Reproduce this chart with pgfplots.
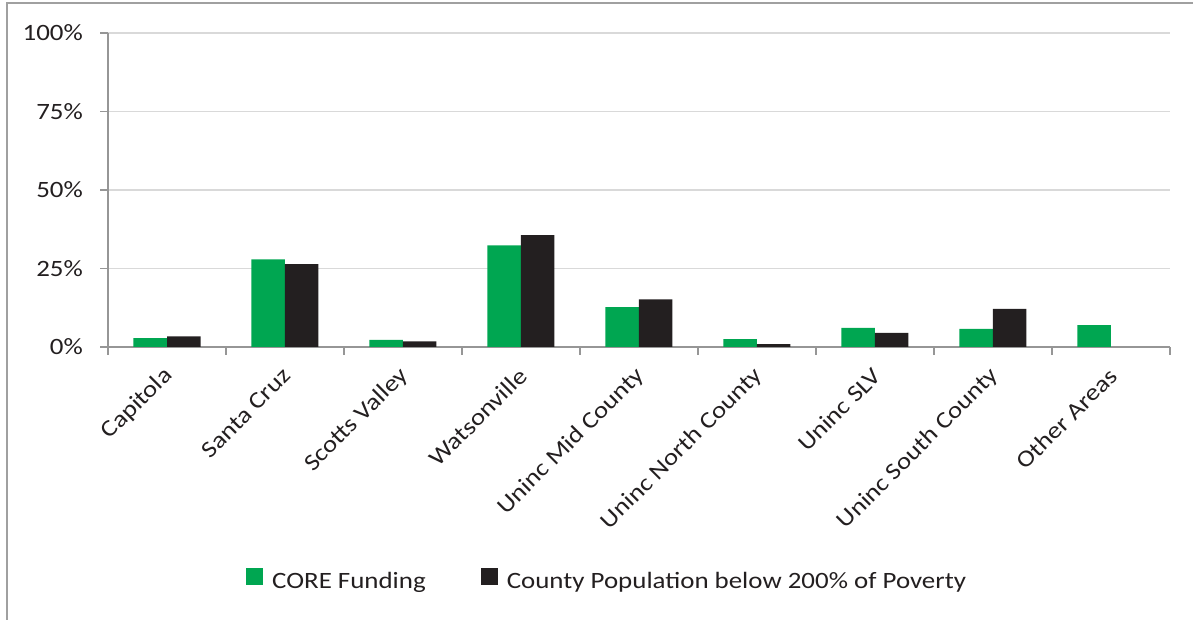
\documentclass[border=0pt]{standalone}
\usepackage{pgfplots}
\pgfplotsset{compat=1.18}
\usepackage{fontspec}
\setmainfont{Carlito}[FakeStretch=1.15]
\definecolor{cgreen}{RGB}{0,166,81}
\definecolor{cblack}{RGB}{35,31,32}
\definecolor{axgray}{RGB}{150,150,150}
\definecolor{gridgray}{RGB}{217,217,217}
\definecolor{framegray}{RGB}{160,160,160}
\begin{document}
\begin{tikzpicture}[x=1bp,y=1bp]
\useasboundingbox (0,0) rectangle (1193,620);
\draw[framegray, line width=1.5bp] (7,-2) -- (7,617) -- (1195,617);
\begin{axis}[
  at={(108bp,273bp)}, anchor=south west,
  scale only axis, width=1062bp, height=314bp,
  xmin=-0.5, xmax=8.5, ymin=0, ymax=100,
  ybar=0pt, bar width=33.5bp,
  axis x line=bottom, axis y line=left,
  axis line style={-, axgray, line width=1.5bp},
  tick align=outside, major tick length=8bp,
  tick style={axgray, line width=1.5bp},
  ytick={0,25,50,75,100},
  yticklabels={0\%,25\%,50\%,75\%,100\%},
  ymajorgrids, major grid style={gridgray, line width=1.5bp},
  xtick={-0.5,0.5,1.5,2.5,3.5,4.5,5.5,6.5,7.5,8.5},
  xticklabels={Capitola,Santa Cruz,Scotts Valley,Watsonville,Uninc Mid County,Uninc North County,Uninc SLV,Uninc South County,Other Areas,{}},
  every tick label/.append style={font=\fontsize{23.5}{28}\selectfont, text=cblack},
  yticklabel style={anchor=east, inner sep=0pt, xshift=-17bp},
  xticklabel style={xshift=61bp, yshift=-17bp, rotate=45, anchor=east, inner sep=0pt},
  legend style={at={(0.47,-0.742)}, anchor=center, draw=none, fill=none,
    font=\fontsize{23.5}{28}\selectfont, text=cblack,
    /tikz/every even column/.append style={column sep=53bp},
    /tikz/every odd column/.append style={column sep=7bp}},
  legend columns=2,
  legend image code/.code={\fill[#1] (0bp,-3bp) rectangle (17bp,14bp);},
]
\addplot[fill=cgreen, draw=none] coordinates {
  (0,2.8) (1,27.9) (2,2.3) (3,32.4) (4,12.7) (5,2.5) (6,6.1) (7,5.8) (8,7.0)};
\addplot[fill=cblack, draw=none] coordinates {
  (0,3.4) (1,26.4) (2,1.8) (3,35.6) (4,15.2) (5,0.9) (6,4.5) (7,12.1)};
\legend{CORE Funding, County Population below 200\% of Poverty}
\end{axis}
\end{tikzpicture}
\end{document}
